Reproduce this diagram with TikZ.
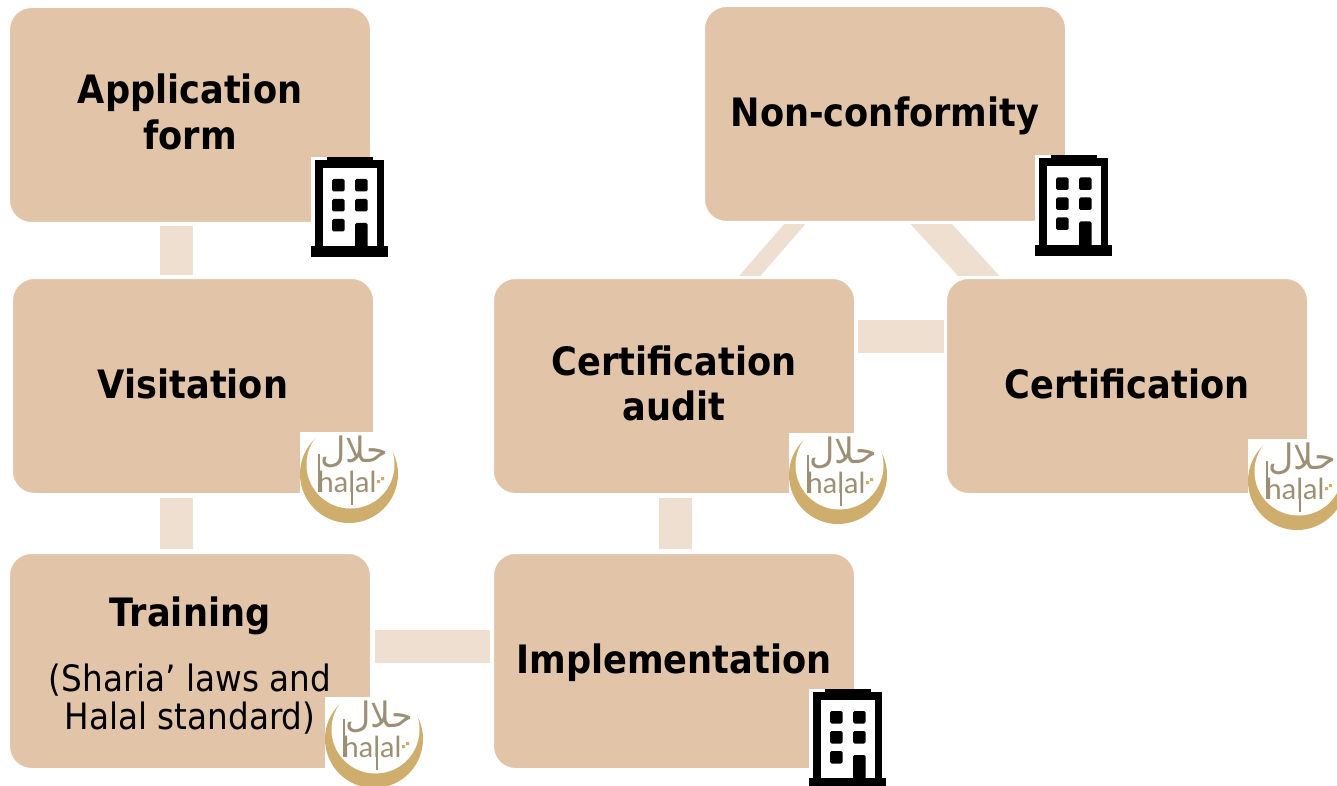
\documentclass[tikz,border=0pt]{standalone}
\usepackage{fontspec}
\setmainfont{DejaVu Sans}[FakeStretch=0.9]
\newfontfamily\arabicfont[Script=Arabic]{DejaVu Sans}
\newfontfamily\logofont{Lato}
\TeXXeTstate=1
\usetikzlibrary{calc,backgrounds}
\definecolor{boxfill}{HTML}{E2C4A9}
\definecolor{barfill}{HTML}{EFDFD1}
\definecolor{gold}{HTML}{CFAE6D}
\definecolor{logotext}{HTML}{9C8F74}
\tikzset{
  stage/.style={draw=white,line width=1pt,fill=boxfill,rounded corners=22pt,minimum width=361pt,minimum height=215pt,
    inner sep=0pt,outer sep=0pt,align=center,text=black,font=\fontsize{39.1}{44}\selectfont\bfseries},
  bar/.style={draw=barfill,line cap=butt},
  blk/.style={fill=black,draw=none},
  wht/.style={fill=white,draw=none},
}
\newcommand{\nudge}[2]{\raisebox{#1pt}[\height][\depth]{#2}}
\newcommand{\subline}[2]{\nudge{#1}{\fontsize{36.3}{38}\selectfont\mdseries #2}}
% building icon: top left corner at (#1,#2)
\newcommand{\buildingicon}[2]{%
  \begin{scope}[shift={(#1,#2)}]
    \fill[wht] (0,0) rectangle (77,100);
    \fill[blk] (16,0) rectangle (62,5);
    \fill[blk] (4,3) rectangle (73,95);
    \fill[wht] (11.5,11) rectangle (66,89);
    \fill[blk] (0,89) rectangle (77,100);
    \foreach \wx/\wy in {21/22,44/22,21/42,44/42,21/62}
      \fill[blk,rounded corners=1.5pt] (\wx,\wy) rectangle +(12.5,12.5);
    \fill[blk,rounded corners=1.5pt] (44,66) rectangle (56.5,95);
  \end{scope}}
% halal logo: top left corner at (#1,#2), #3 = name prefix
\newcommand{\halalicon}[3]{%
  \begin{scope}[shift={(#1,#2)}]
    \fill[wht] (0,0) rectangle (98,92);
    \begin{scope}
      \clip (0,0) rectangle (98,92);
      \fill[gold] (49,42) circle[radius=49];
      \fill[wht] (50.5,32.5) circle[radius=44];
    \end{scope}
    \draw[logotext,line width=1.8pt] (19,22) -- (19,60);
    \draw[logotext,line width=1.8pt] (52,41) -- (52,73);
    \node[inner sep=0pt,text=logotext,font=\logofont\fontsize{29}{29}\selectfont] (#3t) at (47,50) {halal};
    \node[inner sep=0pt,text=logotext,font=\arabicfont\fontsize{35}{35}\selectfont] (#3a) at (54.5,20) {\beginR حلال\endR};
    \fill[gold] (77,48) rectangle +(3,3) (81,45) rectangle +(3,3);
  \end{scope}}
\begin{document}
\begin{tikzpicture}[x=1pt,y=-1pt]
\useasboundingbox (0,0) rectangle (1337,786);
\node[stage] (app) at (190,115) {\nudge{4}{Application}\\\nudge{2}{form}};
\node[stage] (vis) at (193,386) {\nudge{2}{Visitation}};
\node[stage] (tra) at (190,661) {\nudge{-2}{Training}\\[10pt]\subline{-13}{(Sharia’ laws and}\\\subline{-7}{Halal standard)}};
\node[stage] (imp) at (674,661) {\nudge{-2}{Implementation}};
\node[stage] (aud) at (674,386) {\nudge{3}{Certification}\\\nudge{2}{audit}};
\node[stage] (cer) at (1127,386) {\nudge{2}{Certification}};
\node[stage] (non) at (885,114) {\nudge{-2}{Non-conformity}};
\begin{scope}[on background layer]
  \draw[bar,line width=33pt] ($(app.south)+(-13.5,4)$) -- ($(vis.north)+(-16.5,-4)$);
  \draw[bar,line width=33pt] ($(vis.south)+(-16.5,4)$) -- ($(tra.north)+(-13.5,-5)$);
  \draw[bar,line width=33pt] ($(tra.east)+(4,-14.5)$) -- ($(imp.west)+(-4,-14.5)$);
  \draw[bar,line width=33pt] ($(aud.south)+(1,4)$) -- ($(imp.north)+(1,-5)$);
  \draw[bar,line width=33pt] ($(aud.east)+(3.5,-50)$) -- ($(cer.west)+(-3,-50)$);
  \begin{scope}
    \clip (700,225) rectangle (1010,275);
    \draw[bar,line width=16.1pt,shorten <=-12pt,shorten >=-12pt] ($(non.south)+(-91.5,4)$) -- ($(aud.north)+(77.5,-4.5)$);
    \draw[bar,line width=30.5pt,shorten <=-22pt,shorten >=-22pt] ($(non.south)+(47.5,4)$) -- ($(cer.north)+(-149.5,-4)$);
  \end{scope}
\end{scope}
\buildingicon{311}{157}
\buildingicon{1035}{155.5}
\buildingicon{809}{689}
\halalicon{300}{432}{ha}
\halalicon{325}{697}{hb}
\halalicon{789}{433}{hc}
\halalicon{1248}{439}{hd}
\end{tikzpicture}
\end{document}
